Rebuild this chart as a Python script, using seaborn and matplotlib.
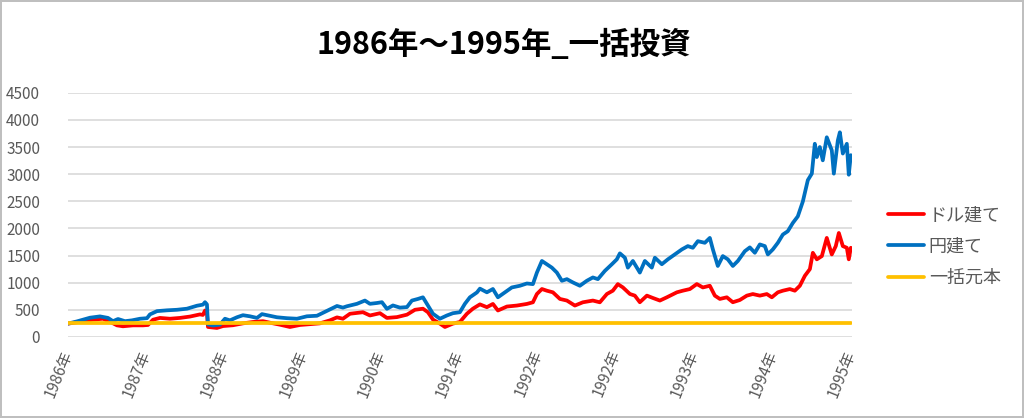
import numpy as np
import pandas as pd
import matplotlib
matplotlib.use("Agg")
import matplotlib.pyplot as plt
import seaborn as sns

# time position in tick-interval units (0 = first label, 10 = last label)
t_dollar = [0, 0.115, 0.319, 0.447, 0.536, 0.626, 0.702, 0.830, 0.958, 1.022,
            1.086, 1.175, 1.303, 1.430, 1.558, 1.686, 1.724, 1.750, 1.775, 1.788,
            1.903, 1.980, 2.107, 2.235, 2.363, 2.490, 2.580, 2.708, 2.835, 2.963,
            3.091, 3.218, 3.346, 3.436, 3.512, 3.602, 3.768, 3.857, 3.985, 4.074,
            4.202, 4.330, 4.432, 4.534, 4.598, 4.662, 4.751, 4.815, 4.917, 5.006,
            5.096, 5.172, 5.262, 5.351, 5.428, 5.492, 5.607, 5.734, 5.862, 5.939,
            5.990, 6.054, 6.117, 6.194, 6.284, 6.373, 6.475, 6.577, 6.705, 6.794,
            6.884, 6.960, 7.024, 7.088, 7.178, 7.241, 7.305, 7.395, 7.471, 7.561,
            7.650, 7.778, 7.854, 7.944, 8.033, 8.110, 8.199, 8.263, 8.327, 8.416,
            8.493, 8.582, 8.672, 8.748, 8.838, 8.927, 8.991, 9.068, 9.132, 9.221,
            9.285, 9.349, 9.413, 9.477, 9.515, 9.566, 9.630, 9.693, 9.757, 9.808,
            9.847, 9.898, 9.949, 9.974, 10.0]
dollar = [245, 270, 317, 335, 280, 213, 196, 213, 213, 220,
          317, 350, 335, 350, 375, 415, 405, 487, 440, 183,
          165, 200, 215, 250, 275, 290, 262, 225, 183, 220,
          235, 250, 305, 360, 335, 427, 455, 395, 437, 350,
          365, 410, 500, 520, 455, 320, 245, 183, 245, 275,
          427, 520, 600, 548, 608, 487, 560, 578, 608, 638,
          791, 883, 852, 822, 700, 670, 578, 638, 670, 638,
          791, 852, 973, 913, 791, 761, 639, 761, 718, 670,
          730, 822, 852, 882, 974, 912, 943, 761, 700, 730,
          639, 680, 761, 790, 761, 790, 730, 822, 852, 882,
          852, 943, 1126, 1250, 1550, 1430, 1490, 1825, 1520, 1674,
          1916, 1674, 1643, 1430, 1643]

t_yen = [0, 0.115, 0.281, 0.409, 0.511, 0.575, 0.639, 0.728, 0.817, 0.920,
         1.009, 1.047, 1.137, 1.264, 1.392, 1.520, 1.648, 1.724, 1.750, 1.775,
         1.788, 1.852, 1.941, 2.005, 2.069, 2.158, 2.235, 2.324, 2.414, 2.478,
         2.580, 2.669, 2.797, 2.925, 3.052, 3.180, 3.308, 3.436, 3.512, 3.563,
         3.691, 3.793, 3.857, 3.946, 4.010, 4.074, 4.151, 4.240, 4.330, 4.393,
         4.470, 4.534, 4.585, 4.662, 4.751, 4.840, 4.917, 5.006, 5.070, 5.134,
         5.224, 5.262, 5.351, 5.428, 5.492, 5.581, 5.670, 5.773, 5.862, 5.939,
         5.990, 6.054, 6.117, 6.181, 6.245, 6.309, 6.373, 6.450, 6.539, 6.628,
         6.705, 6.769, 6.858, 6.948, 7.011, 7.050, 7.114, 7.152, 7.216, 7.305,
         7.369, 7.458, 7.497, 7.586, 7.663, 7.752, 7.842, 7.918, 7.982, 8.046,
         8.135, 8.199, 8.238, 8.301, 8.365, 8.429, 8.493, 8.557, 8.646, 8.710,
         8.774, 8.838, 8.902, 8.940, 9.004, 9.068, 9.132, 9.195, 9.259, 9.323,
         9.387, 9.451, 9.502, 9.540, 9.566, 9.604, 9.642, 9.693, 9.757, 9.783,
         9.834, 9.860, 9.898, 9.949, 9.974, 10.0]
yen = [245, 286, 354, 378, 350, 290, 330, 290, 305, 335,
       345, 415, 475, 490, 500, 520, 575, 595, 640, 600,
       230, 210, 226, 335, 305, 362, 400, 380, 350, 420,
       390, 362, 345, 335, 380, 390, 480, 570, 540, 565,
       610, 670, 610, 625, 640, 518, 580, 540, 550, 670,
       700, 730, 610, 427, 335, 395, 437, 455, 610, 730,
       820, 890, 822, 883, 730, 822, 912, 943, 985, 973,
       1186, 1400, 1340, 1277, 1186, 1035, 1065, 1004, 943, 1035,
       1096, 1065, 1217, 1340, 1430, 1540, 1460, 1277, 1400, 1186,
       1400, 1277, 1460, 1340, 1430, 1522, 1613, 1674, 1643, 1765,
       1735, 1825, 1613, 1308, 1490, 1430, 1308, 1400, 1580, 1650,
       1551, 1705, 1674, 1520, 1613, 1735, 1887, 1948, 2100, 2222,
       2495, 2890, 3010, 3560, 3315, 3500, 3255, 3680, 3440, 3010,
       3620, 3772, 3380, 3560, 2990, 3350]

principal = 250

tick_labels = ["1986年", "1987年", "1988年", "1989年", "1990年", "1991年",
               "1992年", "1992年", "1993年", "1994年", "1995年"]

sns.set_theme(style="white")
plt.rcParams['font.family'] = ['Noto Sans CJK JP', 'DejaVu Sans']

fig = plt.figure(figsize=(10.24, 4.18), dpi=100)
fig.patch.set_edgecolor('#BFBFBF')
fig.patch.set_linewidth(1.5)
ax = fig.add_axes([0.0664, 0.194, 0.766, 0.584])

sns.lineplot(x=t_dollar, y=dollar, ax=ax, color='#FF0000', lw=2.7,
             estimator=None, sort=False, label='ドル建て')
sns.lineplot(x=t_yen, y=yen, ax=ax, color='#0070C0', lw=2.7,
             estimator=None, sort=False, label='円建て')
sns.lineplot(x=t_yen, y=[principal] * len(t_yen), ax=ax, color='#FFC000', lw=2.7,
             estimator=None, sort=False, label='一括元本')

ax.set_ylim(0, 4500)
ax.set_xlim(0, 10.02)
ax.set_yticks(np.arange(0, 4501, 500))
ax.yaxis.grid(True, color='#D9D9D9', lw=1.2)
ax.xaxis.grid(False)
for s in ax.spines.values():
    s.set_visible(False)
ax.tick_params(axis='y', colors='#595959', labelsize=11, length=0, pad=20)
ax.set_xticks(np.arange(len(tick_labels)))
ax.set_xticklabels(tick_labels, rotation=68, ha='right', va='center',
                   rotation_mode='anchor', color='#595959', fontsize=11)
ax.tick_params(axis='x', length=0, pad=10)
ax.set_xlabel('')
ax.set_ylabel('')

ax.set_title('1986年～1995年_一括投資', fontsize=22, fontweight='bold',
             color='#000000', pad=28, x=0.555)

leg = ax.legend(loc='center left', bbox_to_anchor=(1.025, 0.37), frameon=False,
                fontsize=13, handlelength=2.0, handletextpad=0.25, labelspacing=0.75)
for txt in leg.get_texts():
    txt.set_color('#595959')

fig.savefig('out.png', dpi=100)
